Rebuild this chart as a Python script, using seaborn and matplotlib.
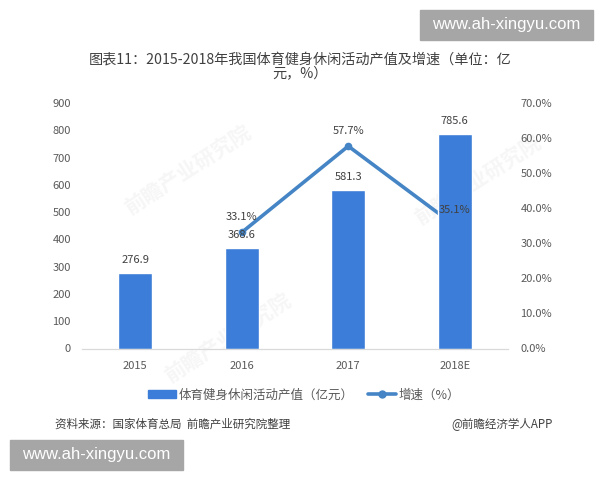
"""
plot.py - sports and leisure output value with growth rate, bars plus line on a twin axis
"""
import pandas as pd
import matplotlib.pyplot as plt
import seaborn as sns
from matplotlib.lines import Line2D
from matplotlib.patches import Patch, Rectangle

sns.set_style('white')
plt.rcParams['font.family'] = ['Noto Sans CJK SC', 'DejaVu Sans']

# Data
years = ['2015', '2016', '2017', '2018E']
output_value = [276.9, 368.6, 581.3, 785.6]
growth_years = ['2016', '2017', '2018E']
growth_rate = [33.1, 57.7, 35.1]
left_ticks = [0, 100, 200, 300, 400, 500, 600, 700, 800, 900]
right_ticks = [0, 10, 20, 30, 40, 50, 60, 70]

BLUE = '#3b7dd8'
LINE_BLUE = '#4585c5'
TEXT = '#595959'

df = pd.DataFrame({'year': years, 'value': output_value})

fig = plt.figure(figsize=(6, 4.8), dpi=100)

# Faint diagonal watermarks behind everything
for wx, wy in [(188, 170), (228, 338), (478, 180)]:
    fig.text(wx / 600, 1 - wy / 480, '前瞻产业研究院', rotation=33, ha='center', va='center',
             fontsize=15, fontweight='bold', color='#f6f6f6', zorder=0)

ax = fig.add_axes([82 / 600, 1 - 348.5 / 480, 426 / 600, 245.5 / 480])
ax2 = ax.twinx()

# Bars sit above the line, the 2018E bar covers the end of it
ax.set_zorder(2)
ax2.set_zorder(1)
ax.patch.set_visible(False)
ax2.patch.set_visible(False)

sns.barplot(data=df, x='year', y='value', color=BLUE, width=0.32, saturation=1, ax=ax)
ax.set_ylim(0, 900)
ax.set_xlim(-0.5, 3.5)
ax.set_yticks(left_ticks)
ax.set_xlabel('')
ax.set_ylabel('')
ax.tick_params(axis='x', length=0, labelsize=8, labelcolor=TEXT, pad=9)
ax.tick_params(axis='y', length=0, labelsize=8, labelcolor=TEXT, pad=8)

for i, v in enumerate(output_value):
    ax.annotate(f'{v}', (i, v), xytext=(0, 6), textcoords='offset points',
                ha='center', va='bottom', fontsize=8, color='#404040')

# Growth line on the right axis
growth_pos = [years.index(y) for y in growth_years]
sns.lineplot(x=growth_pos, y=growth_rate, color=LINE_BLUE, linewidth=2.6, marker='o',
             markersize=5.5, markeredgewidth=0, ax=ax2, legend=False)
ax2.set_ylim(0, 70)
ax2.set_yticks(right_ticks)
ax2.set_yticklabels([f'{t:.1f}%' for t in right_ticks])
ax2.tick_params(axis='y', length=0, labelsize=8, labelcolor=TEXT, pad=9)

# Labels go on the top axes so 35.1% stays readable over the bar
for i, r in zip(growth_pos, growth_rate):
    ax.annotate(f'{r}%', (i, r), xycoords=ax2.transData, xytext=(0, 7.5), textcoords='offset points',
                ha='center', va='bottom', fontsize=8, color='#404040')

for a in (ax, ax2):
    for side in ('top', 'left', 'right'):
        a.spines[side].set_visible(False)
    a.spines['bottom'].set_color('#d9d9d9')

fig.text(0.5, 1 - 66 / 480, '图表11：2015-2018年我国体育健身休闲活动产值及增速（单位：亿\n元，%）',
         ha='center', va='center', fontsize=10.2, color='#404040', linespacing=0.95)

handles = [Patch(color=BLUE), Line2D([], [], color=LINE_BLUE, linewidth=2.6, marker='o', markersize=5)]
fig.legend(handles, ['体育健身休闲活动产值（亿元）', '增速（%）'], loc='center',
           bbox_to_anchor=(304 / 600, 1 - 395 / 480), ncol=2, frameon=False, fontsize=9,
           labelcolor=TEXT, handlelength=2.2, handleheight=0.55, handletextpad=0.2, columnspacing=1.2)

fig.text(55 / 600, 1 - 424 / 480, '资料来源：国家体育总局  前瞻产业研究院整理', ha='left', va='center',
         fontsize=8.3, style='italic', color='#404040')
fig.text(553 / 600, 1 - 424 / 480, '@前瞻经济学人APP', ha='right', va='center',
         fontsize=8.3, color='#404040')

# Site banners
for x0, y0 in [(420, 10), (10, 440)]:
    fig.add_artist(Rectangle((x0 / 600, 1 - (y0 + 30) / 480), 173 / 600, 30 / 480,
                             transform=fig.transFigure, color='#a6a6a6'))
    fig.text((x0 + 86.5) / 600, 1 - (y0 + 15) / 480, 'www.ah-xingyu.com', ha='center', va='center',
             fontsize=12, color='white', family='Liberation Sans')

plt.savefig('out.png', dpi=100)
